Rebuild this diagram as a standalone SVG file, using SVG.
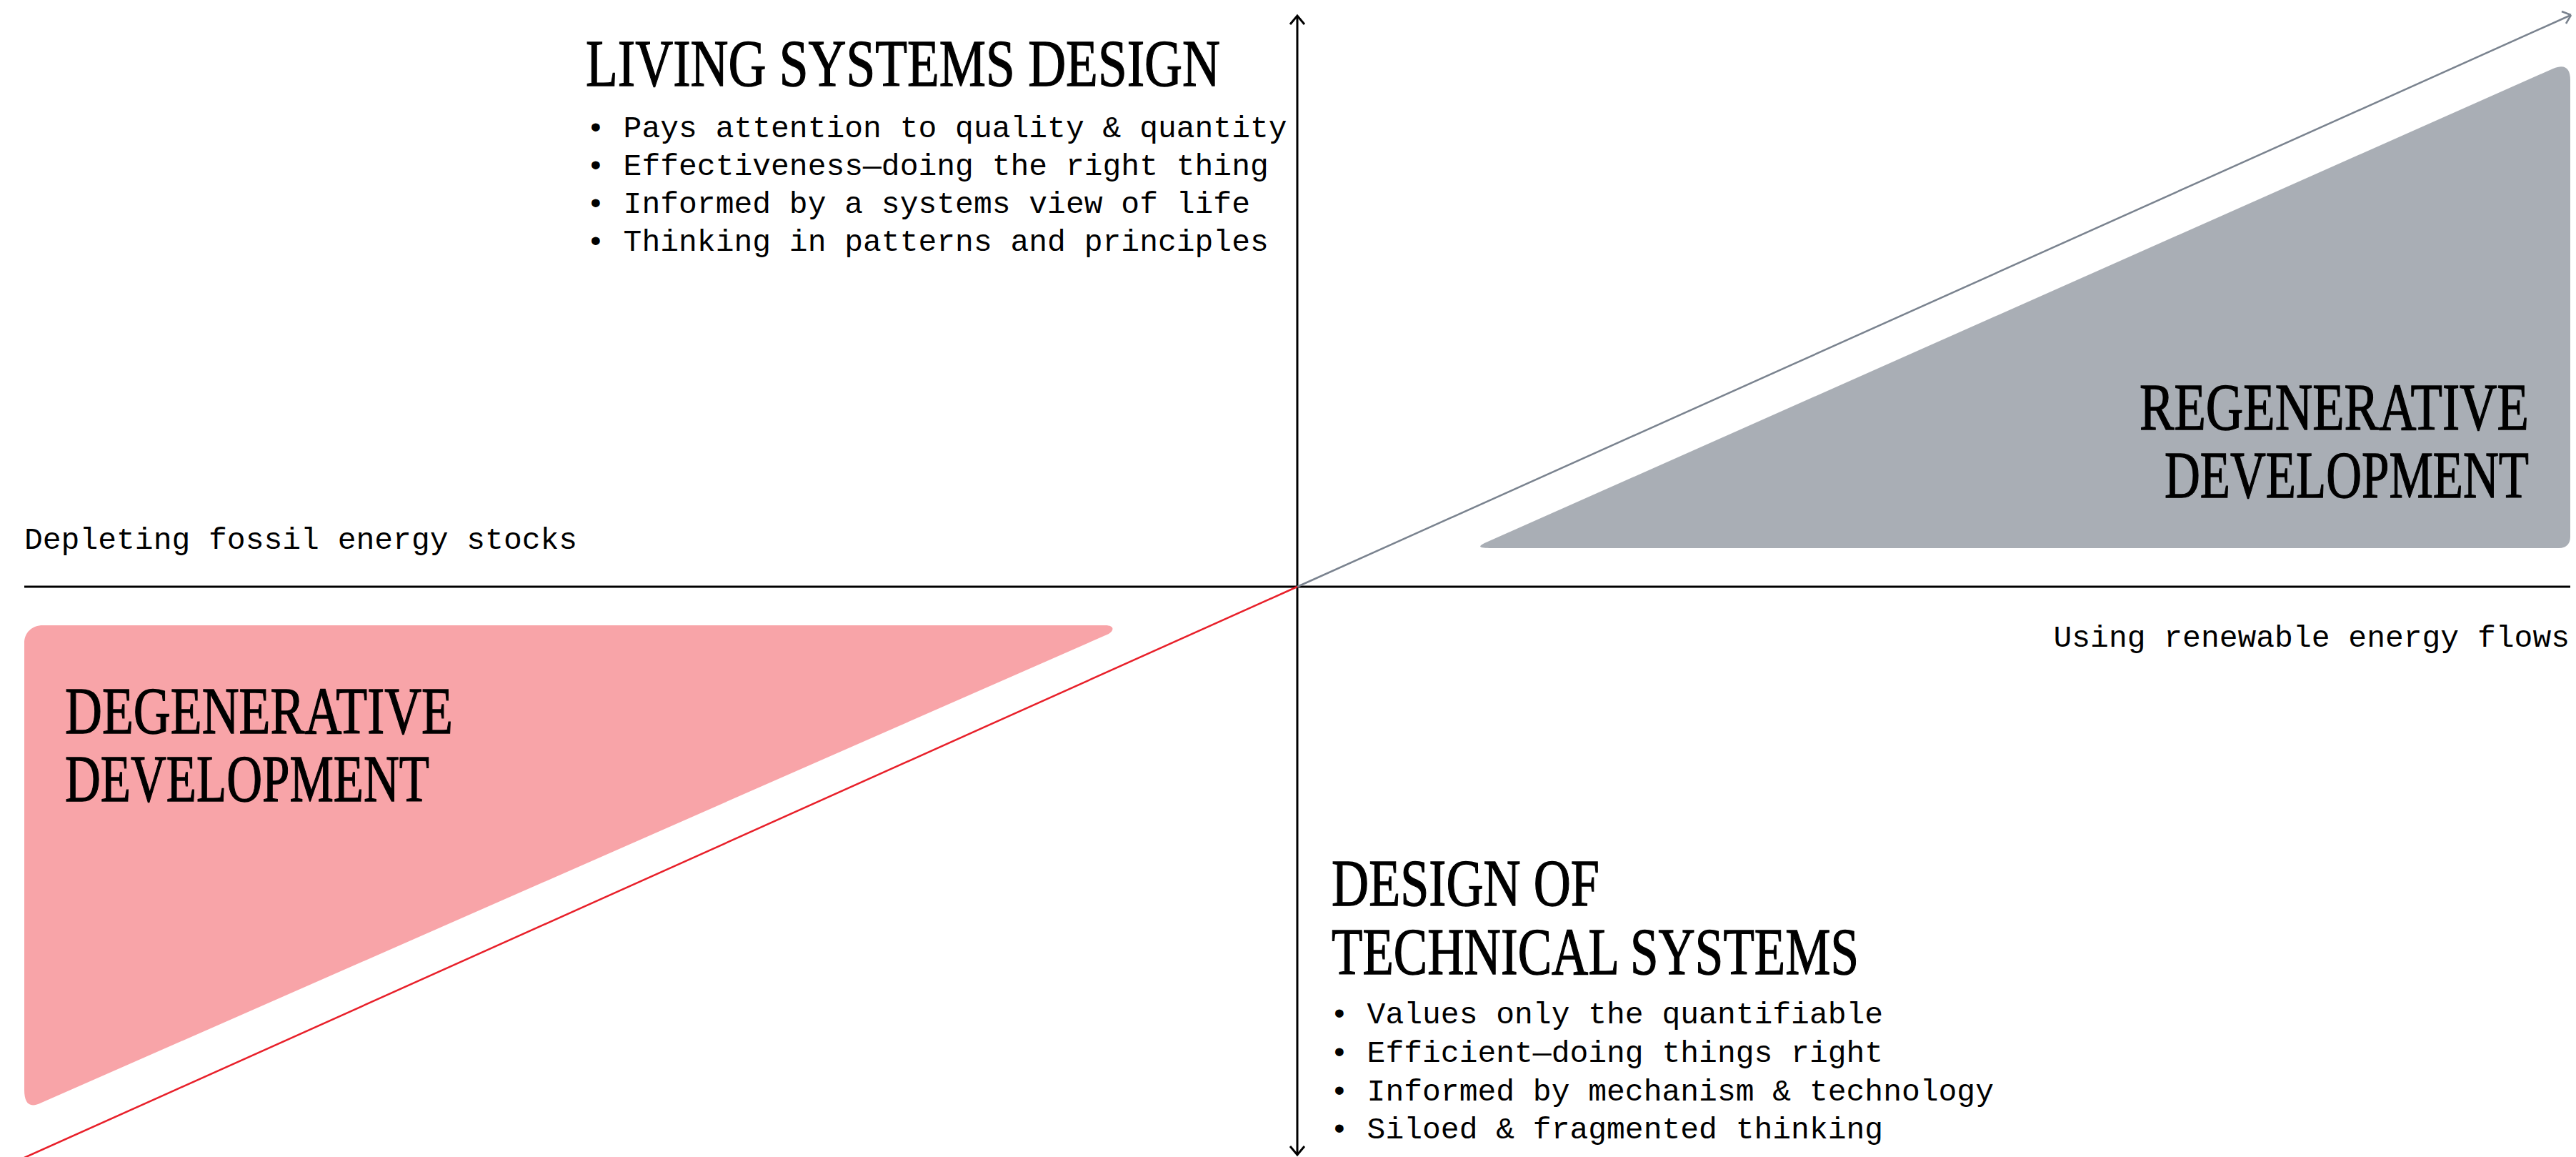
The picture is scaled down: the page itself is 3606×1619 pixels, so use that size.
<svg xmlns="http://www.w3.org/2000/svg" width="3606" height="1619" viewBox="0 0 3606 1619">
<style>
.h{font-family:"Liberation Serif","Times New Roman",serif;font-size:94px;fill:#000;stroke:#000;stroke-width:1.3px}
.m{font-family:"Liberation Mono","Courier New",monospace;font-size:43px;fill:#000}
.ax{stroke:#000;stroke-width:3;fill:none}
</style>
<defs>
<marker id="ablk" markerUnits="userSpaceOnUse" markerWidth="30" markerHeight="30" viewBox="-15 -15 30 30" refX="0" refY="0" orient="auto-start-reverse">
<path d="M-12,-10 L0,0 L-12,10" fill="none" stroke="#000" stroke-width="3"/>
</marker>
</defs>
<rect width="3606" height="1619" fill="#fff"/>
<g id="regenerative">
<path d="M2085,767 L3582,767 C3592,767 3598,761 3598,751 L3598,112 C3598,95 3590,89 3574,96 L2078,760 C2068,765 2071,767 2085,767 Z" fill="#a9aeb5"/>
<text class="h" x="2995" y="601" textLength="545" lengthAdjust="spacingAndGlyphs">REGENERATIVE</text>
<text class="h" x="3030" y="696" textLength="510" lengthAdjust="spacingAndGlyphs">DEVELOPMENT</text>
</g>
<g id="degenerative">
<path d="M60,875 L1547,875 C1560,875 1560,882 1552,887 L58,1543 C42,1551 34,1545 34,1525 L34,900 C34,885 45,875 60,875 Z" fill="#f8a4a8"/>
<text class="h" x="91" y="1026" textLength="543" lengthAdjust="spacingAndGlyphs">DEGENERATIVE</text>
<text class="h" x="91" y="1121" textLength="510" lengthAdjust="spacingAndGlyphs">DEVELOPMENT</text>
</g>
<g id="connectors">
<line x1="34" y1="821" x2="3598" y2="821" class="ax"/>
<line x1="1816" y1="1616" x2="1816" y2="22" class="ax" stroke-width="2.5" marker-start="url(#ablk)" marker-end="url(#ablk)"/>
<line x1="1816" y1="821" x2="3599" y2="21" stroke="#7a838f" stroke-width="2.5"/>
<path d="M3599,21 l-13,-5 M3599,21 l-7,12" stroke="#7a838f" stroke-width="2.5" fill="none"/>
<line x1="1816" y1="821" x2="34" y2="1620" stroke="#e8202a" stroke-width="2.5"/>
</g>
<g id="living-systems-design">
<text class="h" x="820" y="120" textLength="888" lengthAdjust="spacingAndGlyphs">LIVING SYSTEMS DESIGN</text>
<text class="m" x="821" y="192">• Pays attention to quality &amp; quantity</text>
<text class="m" x="821" y="245">• Effectiveness—doing the right thing</text>
<text class="m" x="821" y="298">• Informed by a systems view of life</text>
<text class="m" x="821" y="351">• Thinking in patterns and principles</text>
</g>
<g id="technical-systems-design">
<text class="h" x="1864" y="1267" textLength="375" lengthAdjust="spacingAndGlyphs">DESIGN OF</text>
<text class="h" x="1864" y="1363" textLength="738" lengthAdjust="spacingAndGlyphs">TECHNICAL SYSTEMS</text>
<text class="m" x="1862" y="1432">• Values only the quantifiable</text>
<text class="m" x="1862" y="1486">• Efficient—doing things right</text>
<text class="m" x="1862" y="1540">• Informed by mechanism &amp; technology</text>
<text class="m" x="1862" y="1593">• Siloed &amp; fragmented thinking</text>
</g>
<g id="axis-labels">
<text class="m" x="34" y="768">Depleting fossil energy stocks</text>
<text class="m" x="3597" y="905" text-anchor="end">Using renewable energy flows</text>
</g>
</svg>
